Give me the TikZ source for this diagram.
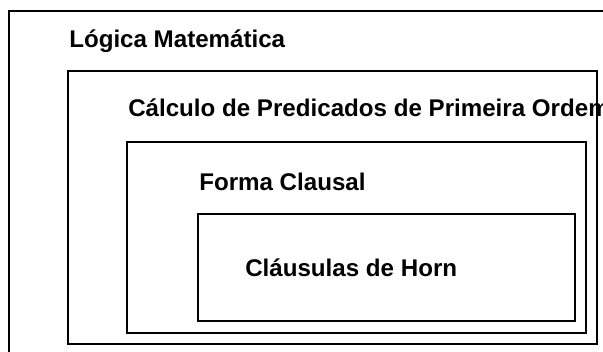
\documentclass[tikz,border=0pt]{standalone}
\usepackage{fontspec}
\setmainfont{Liberation Sans}
\usetikzlibrary{positioning}
\tikzset{
  setbox/.style   = {draw=black, line width=1.4pt},
  setlabel/.style = {font=\bfseries\fontsize{18.1}{20}\selectfont, anchor=base west,
                     inner sep=0pt},
}

\begin{document}
\begin{tikzpicture}[x=0.75pt, y=-0.75pt]
        \clip (0,0) rectangle (603,351);
        \useasboundingbox (0,0) rectangle (603,351);
        \node[setlabel] (logica) at (69,47) {Lógica Matemática};
        \node[setlabel] (calculo) at (128,116.5) {Cálculo de Predicados de Primeira Ordem};
        \node[setlabel] (forma) at (199,190) {Forma Clausal};
        \node[setlabel] (horn) at (245,276.5) {Cláusulas de Horn};
        % nested sets
        \draw[setbox] (9,11) rectangle (640,400);
        \draw[setbox] (68,71) rectangle (597,344);
        \draw[setbox] (127,142) rectangle (586,333);
        \draw[setbox] (198,214) rectangle (575,321);
    \end{tikzpicture}
\end{document}
